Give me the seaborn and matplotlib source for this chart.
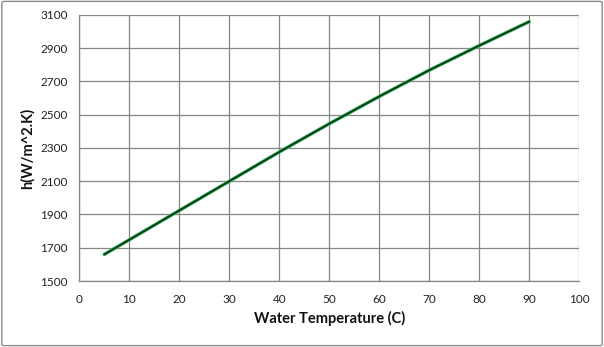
import matplotlib
matplotlib.use("Agg")
import matplotlib.pyplot as plt
import matplotlib.patheffects as pe
from matplotlib.patches import FancyBboxPatch
import seaborn as sns
import pandas as pd

temperature = [5, 10, 20, 30, 40, 50, 60, 70, 80, 90]
h_values = [1660, 1748, 1924, 2100, 2276, 2446, 2610, 2768, 2916, 3060]
x_ticks = [0, 10, 20, 30, 40, 50, 60, 70, 80, 90, 100]
y_ticks = [1500, 1700, 1900, 2100, 2300, 2500, 2700, 2900, 3100]

df = pd.DataFrame({"T": temperature, "h": h_values})

sns.set_style("white")
plt.rcParams['font.family'] = ['Lato', 'DejaVu Sans']

fig = plt.figure(figsize=(6.04, 3.47), dpi=100)
ax = fig.add_axes([0.1313, 0.1902, 0.8277, 0.7666])

grid_c = "#868686"
sns.lineplot(data=df, x="T", y="h", ax=ax, color="#0b3d16", linewidth=1.4,
             path_effects=[pe.Stroke(linewidth=2.5, foreground="#3dbb6a"), pe.Normal()])

ax.set_xlim(0, 100)
ax.set_ylim(1500, 3100)
ax.set_xticks(x_ticks)
ax.set_yticks(y_ticks)
ax.set_xticklabels([str(v) for v in x_ticks])
ax.set_yticklabels([str(v) for v in y_ticks])
ax.grid(True, color=grid_c, linewidth=0.9)
ax.set_axisbelow(True)
for s in ["top", "right"]:
    ax.spines[s].set_visible(False)
for s in ["left", "bottom"]:
    ax.spines[s].set_color(grid_c)
    ax.spines[s].set_linewidth(0.9)
ax.tick_params(axis="both", which="both", direction="out", length=3.5, width=0.9,
               color=grid_c, labelsize=8.5, labelcolor="#222222")
ax.tick_params(axis="y", pad=5)
ax.tick_params(axis="x", pad=6)

ax.set_xlabel("Water Temperature (C)", fontsize=10.5, fontweight="bold", color="#111111", labelpad=4)
ax.set_ylabel("h(W/m^2.K)", fontsize=10.5, fontweight="bold", color="#111111", labelpad=4)

border = FancyBboxPatch((0.003, 0.004), 0.994, 0.992, boxstyle="round,pad=0,rounding_size=0.004",
                        transform=fig.transFigure, fill=False, edgecolor="#8a8a8a", linewidth=1.0)
fig.patches.append(border)

fig.savefig("out.png", dpi=100)
